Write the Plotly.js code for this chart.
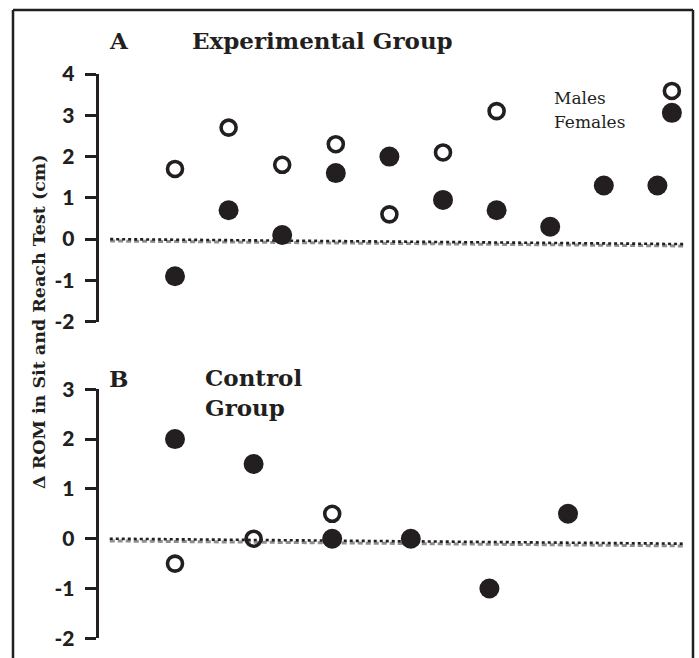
<!DOCTYPE html>
<html>
<head>
<meta charset="utf-8">
<script src="https://cdn.plot.ly/plotly-3.0.1.min.js"></script>
<style>html,body{margin:0;padding:0;background:#fff;}#chart{width:699px;height:658px;}</style>
</head>
<body>
<div id="chart"></div>
<script>
// ---- Data ----
// Panel A: Experimental Group (participant index, change in ROM, cm)
const expMaleX = [1, 2, 3, 4, 5, 6, 7];
const expMaleY = [1.7, 2.7, 1.8, 2.3, 0.6, 2.1, 3.1];
const expFemaleX = [1, 2, 3, 4, 5, 6, 7, 8, 9, 10];
const expFemaleY = [-0.9, 0.7, 0.1, 1.6, 2.0, 0.95, 0.7, 0.3, 1.3, 1.3];
// Panel B: Control Group
const ctlMaleX = [1, 2, 3];
const ctlMaleY = [-0.5, 0.0, 0.5];
const ctlFemaleX = [1, 2, 3, 4, 5, 6];
const ctlFemaleY = [2.0, 1.5, 0.0, 0.0, -1.0, 0.5];
// Baseline (dotted zero reference, slightly tilted as in the figure)
const baseTopX = [-0.21, 10.48];
const baseTopY = [0.0, -0.12];
const baseBotX = [0.17, 7.46];
const baseBotY = [0.0, -0.1];
// Legend
const legendLabels = ["Males", "Females"];
const legendX = [10.27];
const legendMaleY = [3.59];
const legendFemaleY = [3.06];
// Axis ticks
const topTicks = [-2, -1, 0, 1, 2, 3, 4];
const botTicks = [-2, -1, 0, 1, 2, 3];
const yTitle = "Δ ROM in Sit and Reach Test (cm)";
const panelLabels = ["A", "B"];
const groupLabels = ["Experimental Group", "Control<br>Group"];

// ---- Styling ----
const W = 699, H = 658;
const ink = "#231f20";
const px = v => v / W;
const py = v => 1 - v / H;

const filled = {symbol: "circle", size: 20, color: ink, line: {width: 0}};
const open = {symbol: "circle-open", size: 15, color: ink, line: {width: 3.6, color: ink}};

function base(x, y, xa, ya) {
  return [
    {x: x, y: y.map(v => v - 0.045), xaxis: xa, yaxis: ya, mode: "lines", hoverinfo: "skip",
     line: {color: "#8f8f8f", width: 3, dash: "5px,3px"}, showlegend: false},
    {x: x, y: y, xaxis: xa, yaxis: ya, mode: "lines", hoverinfo: "skip",
     line: {color: ink, width: 2.6, dash: "dot"}, showlegend: false}
  ];
}

const traces = [
  ...base(baseTopX, baseTopY, "x", "y"),
  ...base(baseBotX, baseBotY, "x2", "y2"),
  {x: expMaleX, y: expMaleY, xaxis: "x", yaxis: "y", mode: "markers", marker: open, name: legendLabels[0], cliponaxis: false, showlegend: false},
  {x: expFemaleX, y: expFemaleY, xaxis: "x", yaxis: "y", mode: "markers", marker: filled, name: legendLabels[1], cliponaxis: false, showlegend: false},
  {x: ctlMaleX, y: ctlMaleY, xaxis: "x2", yaxis: "y2", mode: "markers", marker: open, name: legendLabels[0], cliponaxis: false, showlegend: false},
  {x: ctlFemaleX, y: ctlFemaleY, xaxis: "x2", yaxis: "y2", mode: "markers", marker: filled, name: legendLabels[1], cliponaxis: false, showlegend: false},
  {x: legendX, y: legendMaleY, xaxis: "x", yaxis: "y", mode: "markers", marker: open, cliponaxis: false, showlegend: false, hoverinfo: "skip"},
  {x: legendX, y: legendFemaleY, xaxis: "x", yaxis: "y", mode: "markers", marker: filled, cliponaxis: false, showlegend: false, hoverinfo: "skip"}
];

const tickFont = {family: "Lato, Open Sans, sans-serif", size: 21, color: ink, weight: 900};
const yCommon = {
  showgrid: false, zeroline: false, showline: true, linewidth: 3, linecolor: ink,
  ticks: "outside", ticklen: 11, tickwidth: 3, tickcolor: ink,
  tickfont: tickFont, anchor: "free", position: px(96.7), ticklabelstandoff: 6, fixedrange: true
};
const xCommon = {visible: false, showgrid: false, zeroline: false, domain: [0, 1], fixedrange: true};

const serifB = {family: "DejaVu Serif, serif", size: 23, color: ink, weight: 700};
function ann(text, x, y, font, extra) {
  return Object.assign({text: text, xref: "paper", yref: "paper", x: px(x), y: py(y),
    xanchor: "left", yanchor: "middle", showarrow: false, font: font}, extra || {});
}

const layout = {
  width: W, height: H,
  margin: {l: 0, r: 0, t: 0, b: 0},
  paper_bgcolor: "#fff", plot_bgcolor: "rgba(0,0,0,0)",
  showlegend: false,
  xaxis: Object.assign({}, xCommon, {range: [-2.265, 10.776]}),
  xaxis2: Object.assign({}, xCommon, {range: [-1.2265, 7.6667]}),
  yaxis: Object.assign({}, yCommon, {range: [-2, 4], domain: [py(321.7), py(74)], tickvals: topTicks, ticktext: topTicks.map(String)}),
  yaxis2: Object.assign({}, yCommon, {range: [-2, 3], domain: [py(638.3), py(389.3)], tickvals: botTicks, ticktext: botTicks.map(String)}),
  shapes: [
    {type: "line", xref: "paper", yref: "paper", x0: px(13), x1: px(13), y0: -0.05, y1: py(10), line: {color: ink, width: 2.5}},
    {type: "line", xref: "paper", yref: "paper", x0: px(13), x1: px(693), y0: py(10), y1: py(10), line: {color: ink, width: 2.5}},
    {type: "line", xref: "paper", yref: "paper", x0: px(693), x1: px(693), y0: -0.05, y1: py(10), line: {color: ink, width: 2.5}}
  ],
  annotations: [
    ann(panelLabels[0], 107, 40, serifB),
    ann(groupLabels[0], 190, 40, serifB),
    ann(panelLabels[1], 107, 378, serifB),
    ann(groupLabels[1], 203, 392, serifB, {align: "left"}),
    ann(legendLabels[0], 552, 98, {family: "DejaVu Serif, serif", size: 17, color: ink}),
    ann(legendLabels[1], 552, 122, {family: "DejaVu Serif, serif", size: 17, color: ink}),
    {text: yTitle, xref: "paper", yref: "paper", x: px(39), y: py(322), xanchor: "center", yanchor: "middle",
     textangle: -90, showarrow: false, font: {family: "DejaVu Serif, serif", size: 17.5, color: ink, weight: 700}}
  ]
};

Plotly.newPlot("chart", traces, layout, {displayModeBar: false, staticPlot: true});
</script>
</body>
</html>
